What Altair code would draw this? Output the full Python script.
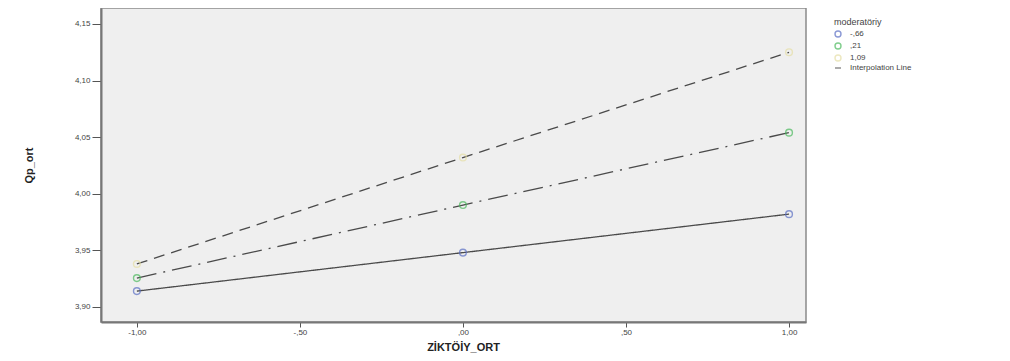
import altair as alt
import pandas as pd

x_vals = [-1.0, 0.0, 1.0]
groups = ["-,66", ",21", "1,09"]
y_low = [3.914, 3.948, 3.982]
y_mid = [3.9255, 3.990, 4.054]
y_high = [3.938, 4.032, 4.125]

legend_domain = groups + ["Interpolation Line"]
point_colors = ["#5b6fc4", "#4cba5e", "#e6dfa6", "#555555"]
point_shapes = ["circle", "circle", "circle", "stroke"]
dash_styles = [[1, 0], [20, 7, 2, 7], [11, 7]]

rows = []
for g, ys in zip(groups, [y_low, y_mid, y_high]):
    for xv, yv in zip(x_vals, ys):
        rows.append({"x": xv, "y": yv, "g": g})
df = pd.DataFrame(rows)

label_expr = "replace(replace(replace(format(datum.value, '.2f'), '\u2212', '-'), '.', ','), '0,', ',')"
y_label_expr = "replace(format(datum.value, '.2f'), '.', ',')"

x_enc = alt.X(
    "x:Q",
    scale=alt.Scale(domain=[-1.11, 1.052], nice=False, zero=False),
    axis=alt.Axis(
        values=[-1, -0.5, 0, 0.5, 1],
        labelExpr=label_expr,
        title="ZİKTÖİY_ORT",
        titleX=362,
        titleFontSize=11,
        titleFontWeight="bold",
        titleFont="Liberation Sans",
        titleColor="#222222",
        titlePadding=5,
        tickSize=5,
        labelFontSize=8,
        labelColor="#444444",
        labelPadding=1,
        grid=False,
    ),
)
y_enc = alt.Y(
    "y:Q",
    scale=alt.Scale(domain=[3.8867, 4.1641], nice=False, zero=False),
    axis=alt.Axis(
        values=[3.90, 3.95, 4.00, 4.05, 4.10, 4.15],
        labelExpr=y_label_expr,
        title="Qp_ort",
        titleFontSize=11,
        titleFontWeight="bold",
        titleFont="Liberation Sans",
        titleColor="#222222",
        titleX=-67,
        tickSize=9,
        labelFontSize=8,
        labelColor="#444444",
        labelPadding=2,
        grid=False,
    ),
)

lines = alt.Chart(df).mark_line(color="#4a4a4a", strokeWidth=1.3).encode(
    x=x_enc,
    y=y_enc,
    strokeDash=alt.StrokeDash("g:N", scale=alt.Scale(domain=groups, range=dash_styles), legend=None),
    detail="g:N",
)

points = alt.Chart(df).mark_point(filled=False, size=45, strokeWidth=1.4).encode(
    x=alt.X("x:Q"),
    y=alt.Y("y:Q"),
    color=alt.Color(
        "g:N",
        scale=alt.Scale(domain=legend_domain, range=point_colors),
        legend=alt.Legend(
            title="moderatöriy",
            orient="none",
            legendX=733,
            legendY=10,
            titleFontSize=9,
            titleFontWeight="normal",
            titleColor="#444444",
            titlePadding=3,
            labelFontSize=8,
            labelColor="#444444",
            symbolSize=36,
            symbolStrokeWidth=1.4,
            rowPadding=0,
            labelOffset=8,
        ),
    ),
    shape=alt.Shape("g:N", scale=alt.Scale(domain=legend_domain, range=point_shapes)),
)

chart = (
    alt.layer(lines, points)
    .properties(
        width=705,
        height=314,
        background="white",
        autosize=alt.AutoSizeParams(type="none"),
        padding={"left": 93, "top": 0, "right": 190, "bottom": 38},
    )
    .configure_view(fill="#efefef", stroke="#8a8a8a", strokeWidth=1.5)
    .configure_axis(domainColor="#777777", domainWidth=2, tickColor="#555555", labelFont="Liberation Sans")
    .configure_legend(labelFont="Liberation Sans", titleFont="Liberation Sans")
)

chart.save("out.html", embed_options={"renderer": "svg", "actions": False})
